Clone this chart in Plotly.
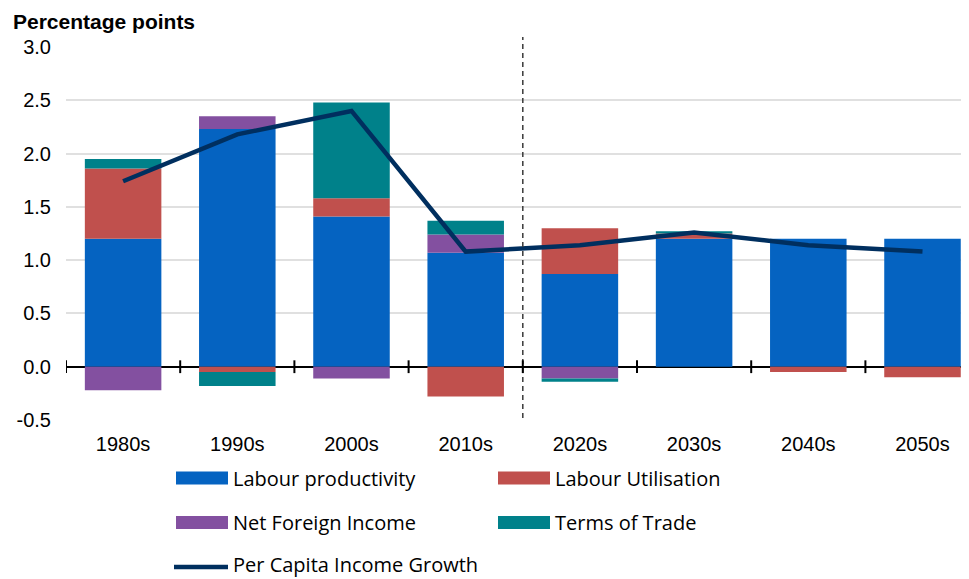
import plotly.graph_objects as go

# data
decades = ["1980s", "1990s", "2000s", "2010s", "2020s", "2030s", "2040s", "2050s"]
labour_productivity = [1.20, 2.23, 1.41, 1.07, 0.87, 1.20, 1.20, 1.20]
labour_utilisation  = [0.66, -0.05, 0.17, -0.28, 0.43, 0.05, -0.05, -0.10]
net_foreign_income  = [-0.22, 0.12, -0.11, 0.17, -0.11, 0.00, 0.00, 0.00]
terms_of_trade      = [0.09, -0.13, 0.90, 0.13, -0.03, 0.02, 0.00, 0.00]
per_capita_income   = [1.74, 2.18, 2.40, 1.08, 1.14, 1.26, 1.14, 1.08]

y_tickvals = [-0.5, 0.0, 0.5, 1.0, 1.5, 2.0, 2.5, 3.0]
y_ticktext = ["-0.5", "0.0", "0.5", "1.0", "1.5", "2.0", "2.5", "3.0"]

BLUE   = "#0563C1"
RED    = "#C0504D"
PURPLE = "#8350A0"
TEAL   = "#00818A"
NAVY   = "#002F5F"

# page has an 8px body margin, so the figure is sized/placed to fit the window
OFF = 8
W, H = 969 - OFF, 579 - OFF
ML, MR, MT = 66 - OFF, 0, 47 - OFF
PLOT_BOTTOM = 420 - OFF
MB = H - PLOT_BOTTOM
PW, PH = W - ML - MR, H - MT - MB
CAT_W = 114.2  # px per category
X_MAX = -0.5 + PW / CAT_W

AXIS_FONT = dict(family="Liberation Sans, Arial, sans-serif", size=20, color="#000000")
LEG_FONT = dict(family="Open Sans, sans-serif", size=20, color="#000000")


# helpers: window pixel coords -> paper coords
def px_x(p):
    return (p - OFF - ML) / PW


def px_y(p):
    return (PLOT_BOTTOM - (p - OFF)) / PH


fig = go.Figure()
series = [
    ("Labour productivity", labour_productivity, BLUE),
    ("Labour Utilisation", labour_utilisation, RED),
    ("Net Foreign Income", net_foreign_income, PURPLE),
    ("Terms of Trade", terms_of_trade, TEAL),
]
for name, vals, col in series:
    fig.add_bar(
        x=decades, y=vals, name=name,
        marker=dict(color=col, line=dict(width=0)),
        width=0.67,
    )

fig.add_scatter(
    x=decades, y=per_capita_income, name="Per Capita Income Growth",
    mode="lines", line=dict(color=NAVY, width=4.5),
)

shapes = []
# vertical dashed separator between history and projection
shapes.append(dict(
    type="line", xref="x", yref="paper", x0=3.5, x1=3.5,
    y0=px_y(418), y1=px_y(37),
    line=dict(color="#3a3a3a", width=1.5, dash="5px,4px"),
))
# tick crosses on the zero line at category boundaries
for i in range(len(decades)):
    b = i - 0.5
    shapes.append(dict(
        type="line", xref="x", yref="y", x0=b, x1=b, y0=-0.06, y1=0.06,
        line=dict(color="#000000", width=2),
    ))

# hand-drawn legend (wide swatches like the original)
annotations = []
legend_items = [
    ("Labour productivity", BLUE, 176, 478, "bar"),
    ("Labour Utilisation", RED, 498, 478, "bar"),
    ("Net Foreign Income", PURPLE, 176, 522.5, "bar"),
    ("Terms of Trade", TEAL, 498, 522.5, "bar"),
    ("Per Capita Income Growth", NAVY, 176, 567, "line"),
]
for label, col, x0, yc, kind in legend_items:
    if kind == "bar":
        shapes.append(dict(
            type="rect", xref="paper", yref="paper",
            x0=px_x(x0), x1=px_x(x0 + 52), y0=px_y(yc + 6.5), y1=px_y(yc - 6.5),
            fillcolor=col, line=dict(width=0),
        ))
        txt_y, anchor = px_y(yc), "middle"
    else:
        shapes.append(dict(
            type="line", xref="paper", yref="paper",
            x0=px_x(x0 - 2), x1=px_x(x0 + 52), y0=px_y(yc), y1=px_y(yc),
            line=dict(color=col, width=4.5),
        ))
        # last row sits on the bottom edge, anchor it there so it is not clipped
        txt_y, anchor = px_y(579), "bottom"
    annotations.append(dict(
        text=label, xref="paper", yref="paper",
        x=px_x(x0 + 56), y=txt_y, xanchor="left", yanchor=anchor,
        showarrow=False, borderpad=0, font=LEG_FONT,
    ))

annotations.append(dict(
    text="<b>Percentage points</b>", xref="paper", yref="paper",
    x=px_x(12), y=px_y(OFF + 1), xanchor="left", yanchor="top",
    showarrow=False, borderpad=0,
    font=dict(family="Liberation Sans, Arial, sans-serif", size=21, color="#000000"),
))

fig.update_layout(
    width=W, height=H,
    barmode="relative",
    showlegend=False,
    paper_bgcolor="#FFFFFF",
    plot_bgcolor="#FFFFFF",
    margin=dict(l=ML, r=MR, t=MT, b=MB),
    xaxis=dict(
        range=[-0.5, X_MAX],
        showgrid=False, zeroline=False, showline=False,
        ticks="", tickfont=AXIS_FONT, ticklabelstandoff=10,
    ),
    yaxis=dict(
        range=[-0.5, 3.0], tickvals=y_tickvals, ticktext=y_ticktext,
        showgrid=True, gridcolor="#E0E0E0", gridwidth=1.5,
        zeroline=True, zerolinecolor="#000000", zerolinewidth=2,
        showline=False, ticks="", tickfont=AXIS_FONT, ticklabelstandoff=14,
    ),
    shapes=shapes,
    annotations=annotations,
)

fig.write_html("out.html")
